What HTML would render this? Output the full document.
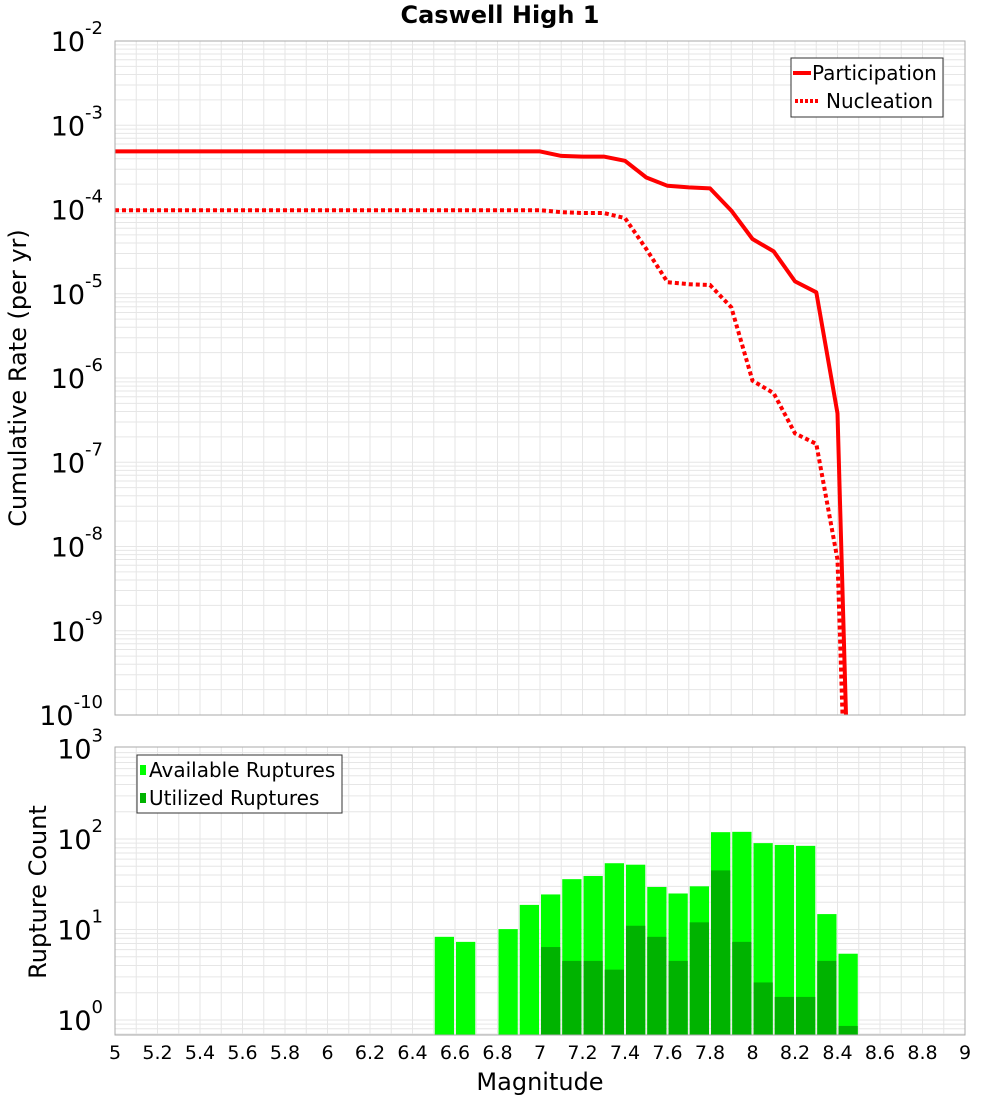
<!DOCTYPE html>
<html><head><meta charset="utf-8"><style>
html,body{margin:0;padding:0;background:#fff;overflow:hidden;width:1000px;height:1100px}
svg{display:block}
svg text{font-family:"DejaVu Sans","Liberation Sans",sans-serif}
</style></head><body>
<svg id="chart" width="1000" height="1100" xmlns="http://www.w3.org/2000/svg" overflow="hidden"></svg>
<script>
const mags = [5.0,5.1,5.2,5.3,5.4,5.5,5.6,5.7,5.8,5.9,6.0,6.1,6.2,6.3,6.4,6.5,6.6,6.7,6.8,6.9,7.0,7.1,7.2,7.3,7.4,7.5,7.6,7.7,7.8,7.9,8.0,8.1,8.2,8.3,8.4,8.5];
const participation = [4.9e-4,4.9e-4,4.9e-4,4.9e-4,4.9e-4,4.9e-4,4.9e-4,4.9e-4,4.9e-4,4.9e-4,4.9e-4,4.9e-4,4.9e-4,4.9e-4,4.9e-4,4.9e-4,4.9e-4,4.9e-4,4.9e-4,4.9e-4,4.9e-4,4.33e-4,4.25e-4,4.25e-4,3.78e-4,2.4e-4,1.91e-4,1.83e-4,1.78e-4,9.7e-5,4.46e-5,3.18e-5,1.4e-5,1.04e-5,3.8e-7,4e-16];
const nucleation = [9.8e-5,9.8e-5,9.8e-5,9.8e-5,9.8e-5,9.8e-5,9.8e-5,9.8e-5,9.8e-5,9.8e-5,9.8e-5,9.8e-5,9.8e-5,9.8e-5,9.8e-5,9.8e-5,9.8e-5,9.8e-5,9.8e-5,9.8e-5,9.8e-5,9.3e-5,9.1e-5,9.1e-5,7.9e-5,3.4e-5,1.37e-5,1.3e-5,1.27e-5,6.9e-6,9.3e-7,6.6e-7,2.2e-7,1.65e-7,7e-9,1e-16];
const binStarts = [6.5,6.6,6.8,6.9,7.0,7.1,7.2,7.3,7.4,7.5,7.6,7.7,7.8,7.9,8.0,8.1,8.2,8.3,8.4];
const available = [8.3,7.3,10.1,18.7,24.4,36,39,54,52,29.5,25,30,119,120,90,86,84,14.8,5.4];
const utilized = [0,0,0,0,6.4,4.5,4.5,3.6,11,8.3,4.5,12,45,7.3,2.6,1.8,1.8,4.5,0.86];
const xTicks = ["5","5.2","5.4","5.6","5.8","6","6.2","6.4","6.6","6.8","7","7.2","7.4","7.6","7.8","8","8.2","8.4","8.6","8.8","9"];
const topExps = [-2,-3,-4,-5,-6,-7,-8,-9,-10];
const botExps = [3,2,1,0];

const NS="http://www.w3.org/2000/svg";
const svg=document.getElementById('chart');
function el(tag,attrs,parent,text){const e=document.createElementNS(NS,tag);for(const k in attrs)e.setAttribute(k,attrs[k]);if(text!==undefined)e.textContent=text;(parent||svg).appendChild(e);return e;}
const L=115,R=965,T1=41,B1=715,T2=747,B2=1035;
const xs=m=>L+(m-5)*(R-L)/4;
const y1=v=>T1+(-2-Math.log10(v))*(B1-T1)/8;
const y2=v=>1020-Math.log10(v)*90.5;

let r=el('rect',{x:L,y:T1,width:R-L,height:B1-T1,fill:'#fff',stroke:'none'});

r=el('rect',{x:L,y:T2,width:R-L,height:B2-T2,fill:'#fff',stroke:'none'});


const grid=el('g',{stroke:'#e6e6e6','stroke-width':1});

for(let i=0;i<=40;i++){const x=xs(5+i*0.1);el('line',{x1:x,y1:T1,x2:x,y2:B1},grid);el('line',{x1:x,y1:T2,x2:x,y2:B2},grid);}
for(let d=-10;d<-2;d++)for(let k=1;k<10;k++){const y=y1(k*Math.pow(10,d));el('line',{x1:L,y1:y,x2:R,y2:y},grid);}
for(let d=-1;d<3;d++)for(let k=1;k<10;k++){const y=y2(k*Math.pow(10,d));if(y>T2&&y<B2)el('line',{x1:L,y1:y,x2:R,y2:y},grid);}

const bars=el('g',{});
binStarts.forEach((m,i)=>{
  const x=xs(m)+1,w=xs(m+0.1)-xs(m)-2;
  let b=el('rect',{x:x,y:y2(available[i]),width:w,height:B2-y2(available[i]),fill:'#00ff00'},bars);
  
  if(utilized[i]>0){const yu=Math.max(y2(utilized[i]),T2);
  b=el('rect',{x:x,y:yu,width:w,height:B2-yu,fill:'#00b300'},bars);
  }
});

const defs=el('defs',{});const cp=el('clipPath',{id:'c1'},defs);el('rect',{x:L,y:T1,width:R-L,height:B1-T1},cp);
function pts(arr){return mags.map((m,i)=>xs(m).toFixed(1)+','+y1(arr[i]).toFixed(1)).join(' ');}
let p=el('polyline',{points:pts(participation),fill:'none',stroke:'#ff0000','stroke-width':4,'clip-path':'url(#c1)','stroke-linejoin':'round'});

p=el('polyline',{points:pts(nucleation),fill:'none',stroke:'#ff0000','stroke-width':4,'stroke-dasharray':'4 3','clip-path':'url(#c1)'});


r=el('rect',{x:L,y:T1,width:R-L,height:B1-T1,fill:'none',stroke:'#aaa'});
r=el('rect',{x:L,y:T2,width:R-L,height:B2-T2,fill:'none',stroke:'#aaa'});

function ylab(y,e,name){const t=el('text',{x:103,y:y+10,'font-size':27,'text-anchor':'end',fill:'#000'});
 
 t.textContent='10';el('tspan',{dy:-17,'font-size':18},t,String(e));}
topExps.forEach(e=>ylab(y1(Math.pow(10,e)),e,'y-tick-label'));
botExps.forEach(e=>ylab(y2(Math.pow(10,e)),e,'y2-tick-label'));
xTicks.forEach(s=>{const t=el('text',{x:xs(parseFloat(s)),y:1059,'font-size':19,'text-anchor':'middle'},svg,s);
 });

let t=el('text',{x:500,y:23,'font-size':24,'font-weight':'bold','text-anchor':'middle'},svg,'Caswell High 1');

t=el('text',{x:540,y:1090,'font-size':24,'text-anchor':'middle'},svg,'Magnitude');

t=el('text',{x:0,y:0,'font-size':24,'text-anchor':'middle',transform:'translate(26,378) rotate(-90)'},svg,'Cumulative Rate (per yr)');

t=el('text',{x:0,y:0,'font-size':24,'text-anchor':'middle',transform:'translate(46,892) rotate(-90)'},svg,'Rupture Count');


let g=el('g',{});
el('rect',{x:791,y:58,width:152,height:59,fill:'#fff',stroke:'#333'},g);
el('line',{x1:793,y1:73,x2:811,y2:73,stroke:'#f00','stroke-width':4},g);
el('line',{x1:795,y1:101,x2:819,y2:101,stroke:'#f00','stroke-width':4,'stroke-dasharray':'3 2'},g);
el('text',{x:812,y:80,'font-size':20},g,'Participation');
el('text',{x:826,y:108,'font-size':20},g,'Nucleation');
g=el('g',{});
el('rect',{x:137,y:755,width:205,height:58,fill:'#fff',stroke:'#333'},g);
el('rect',{x:140,y:765,width:6,height:10,fill:'#00ff00'},g);
el('rect',{x:140,y:793,width:6,height:10,fill:'#00b300'},g);
el('text',{x:149,y:777,'font-size':20},g,'Available Ruptures');
el('text',{x:149,y:805,'font-size':20},g,'Utilized Ruptures');
</script>
</body></html>
